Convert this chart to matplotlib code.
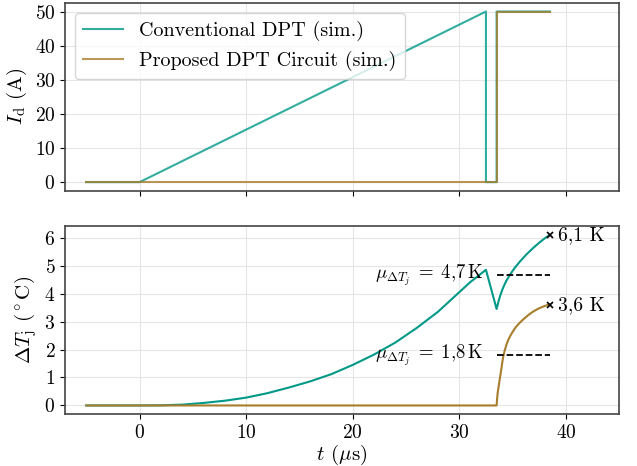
import matplotlib
matplotlib.use("Agg")
import matplotlib.pyplot as plt

plt.rcParams['font.family'] = ['cmr10', 'DejaVu Serif']
plt.rcParams['mathtext.fontset'] = 'cm'
plt.rcParams['axes.formatter.use_mathtext'] = True
plt.rcParams['axes.unicode_minus'] = False
plt.rcParams['font.size'] = 14

teal = '#009988'
brown = '#A87D2C'

# drain current
t_id_conv = [-5, 0, 32.5, 32.5, 33.5, 33.5, 38.5]
id_conv = [0, 0, 50, 0, 0, 50, 50]
t_id_prop = [-5, 33.5, 33.5, 38.5]
id_prop = [0, 0, 50, 50]

# junction temperature rise
t_tj_conv = [-5, 0, 2, 4, 6, 8, 10, 12, 14, 16, 18, 20, 22, 24, 26, 28, 30,
             31, 32, 32.5, 33.5, 33.7, 33.9, 34.1, 34.4, 34.8, 35.2, 35.7,
             36.3, 36.9, 37.5, 38.0, 38.5]
tj_conv = [0, 0, 0.005, 0.03, 0.09, 0.17, 0.28, 0.44, 0.64, 0.86, 1.12, 1.45,
           1.82, 2.25, 2.77, 3.35, 4.05, 4.4, 4.7, 4.85, 3.45, 3.75, 4.0, 4.2,
           4.45, 4.7, 4.92, 5.15, 5.4, 5.62, 5.82, 5.97, 6.1]
t_tj_prop = [-5, 33.5, 33.55, 33.6, 33.7, 33.8, 33.9, 34.0, 34.1, 34.25, 34.4,
             34.6, 34.8, 35.0, 35.3, 35.7, 36.1, 36.5, 36.9, 37.4, 37.9, 38.5]
tj_prop = [0, 0, 0.25, 0.45, 0.7, 0.95, 1.2, 1.45, 1.7, 1.95, 2.15, 2.35,
           2.5, 2.63, 2.8, 2.97, 3.11, 3.24, 3.35, 3.46, 3.54, 3.62]

mean_conv = 4.67
mean_prop = 1.8
mean_span = [33.5, 38.5]

fig, (ax1, ax2) = plt.subplots(2, 1, sharex=True, figsize=(6.37, 4.66), dpi=100)
fig.subplots_adjust(left=0.102, right=0.972, top=0.9936, bottom=0.1116, hspace=0.19)

ax1.plot(t_id_conv, id_conv, color=teal, alpha=0.8, lw=1.5, label='Conventional DPT (sim.)')
ax1.plot(t_id_prop, id_prop, color=brown, alpha=0.8, lw=1.5, label='Proposed DPT Circuit (sim.)')
ax1.set_ylabel(r'$I_\mathrm{d}$ (A)', fontsize=15)
ax1.set_yticks([0, 10, 20, 30, 40, 50])
ax1.legend(loc='upper left', fontsize=14.5, framealpha=0.8)

ax2.plot(t_tj_conv, tj_conv, color=teal, lw=1.5)
ax2.plot(t_tj_prop, tj_prop, color=brown, lw=1.5)
ax2.plot(mean_span, [mean_conv, mean_conv], 'k--', lw=1.3)
ax2.plot(mean_span, [mean_prop, mean_prop], 'k--', lw=1.3)
ax2.plot([38.5, 38.5], [6.1, 3.6], 'kx', ms=5, mew=1.2)
ax2.text(39.3, 6.1, '6,1 K', va='center', ha='left', fontsize=14)
ax2.text(39.3, 3.6, '3,6 K', va='center', ha='left', fontsize=14)
ax2.text(32.3, mean_conv, r'$\mu_{\Delta T_j}\;=\;4{,}7\,\mathrm{K}$', va='center', ha='right', fontsize=13.5)
ax2.text(32.3, mean_prop, r'$\mu_{\Delta T_j}\;=\;1{,}8\,\mathrm{K}$', va='center', ha='right', fontsize=13.5)
ax2.set_ylabel(r'$\Delta T_\mathrm{j}$ ($^\circ$C)', fontsize=15)
ax2.set_xlabel(r'$t$ ($\mu$s)', fontsize=15, labelpad=1)
ax2.set_xlim(-7, 45)
ax2.set_xticks([0, 10, 20, 30, 40])
ax2.set_yticks([0, 1, 2, 3, 4, 5, 6])

for ax in (ax1, ax2):
    ax.grid(True, color='#e6e6e6', lw=0.8)
    ax.set_axisbelow(True)
    for s in ax.spines.values():
        s.set_color('#444444')
        s.set_linewidth(1.2)

fig.savefig('out.png', dpi=100)
